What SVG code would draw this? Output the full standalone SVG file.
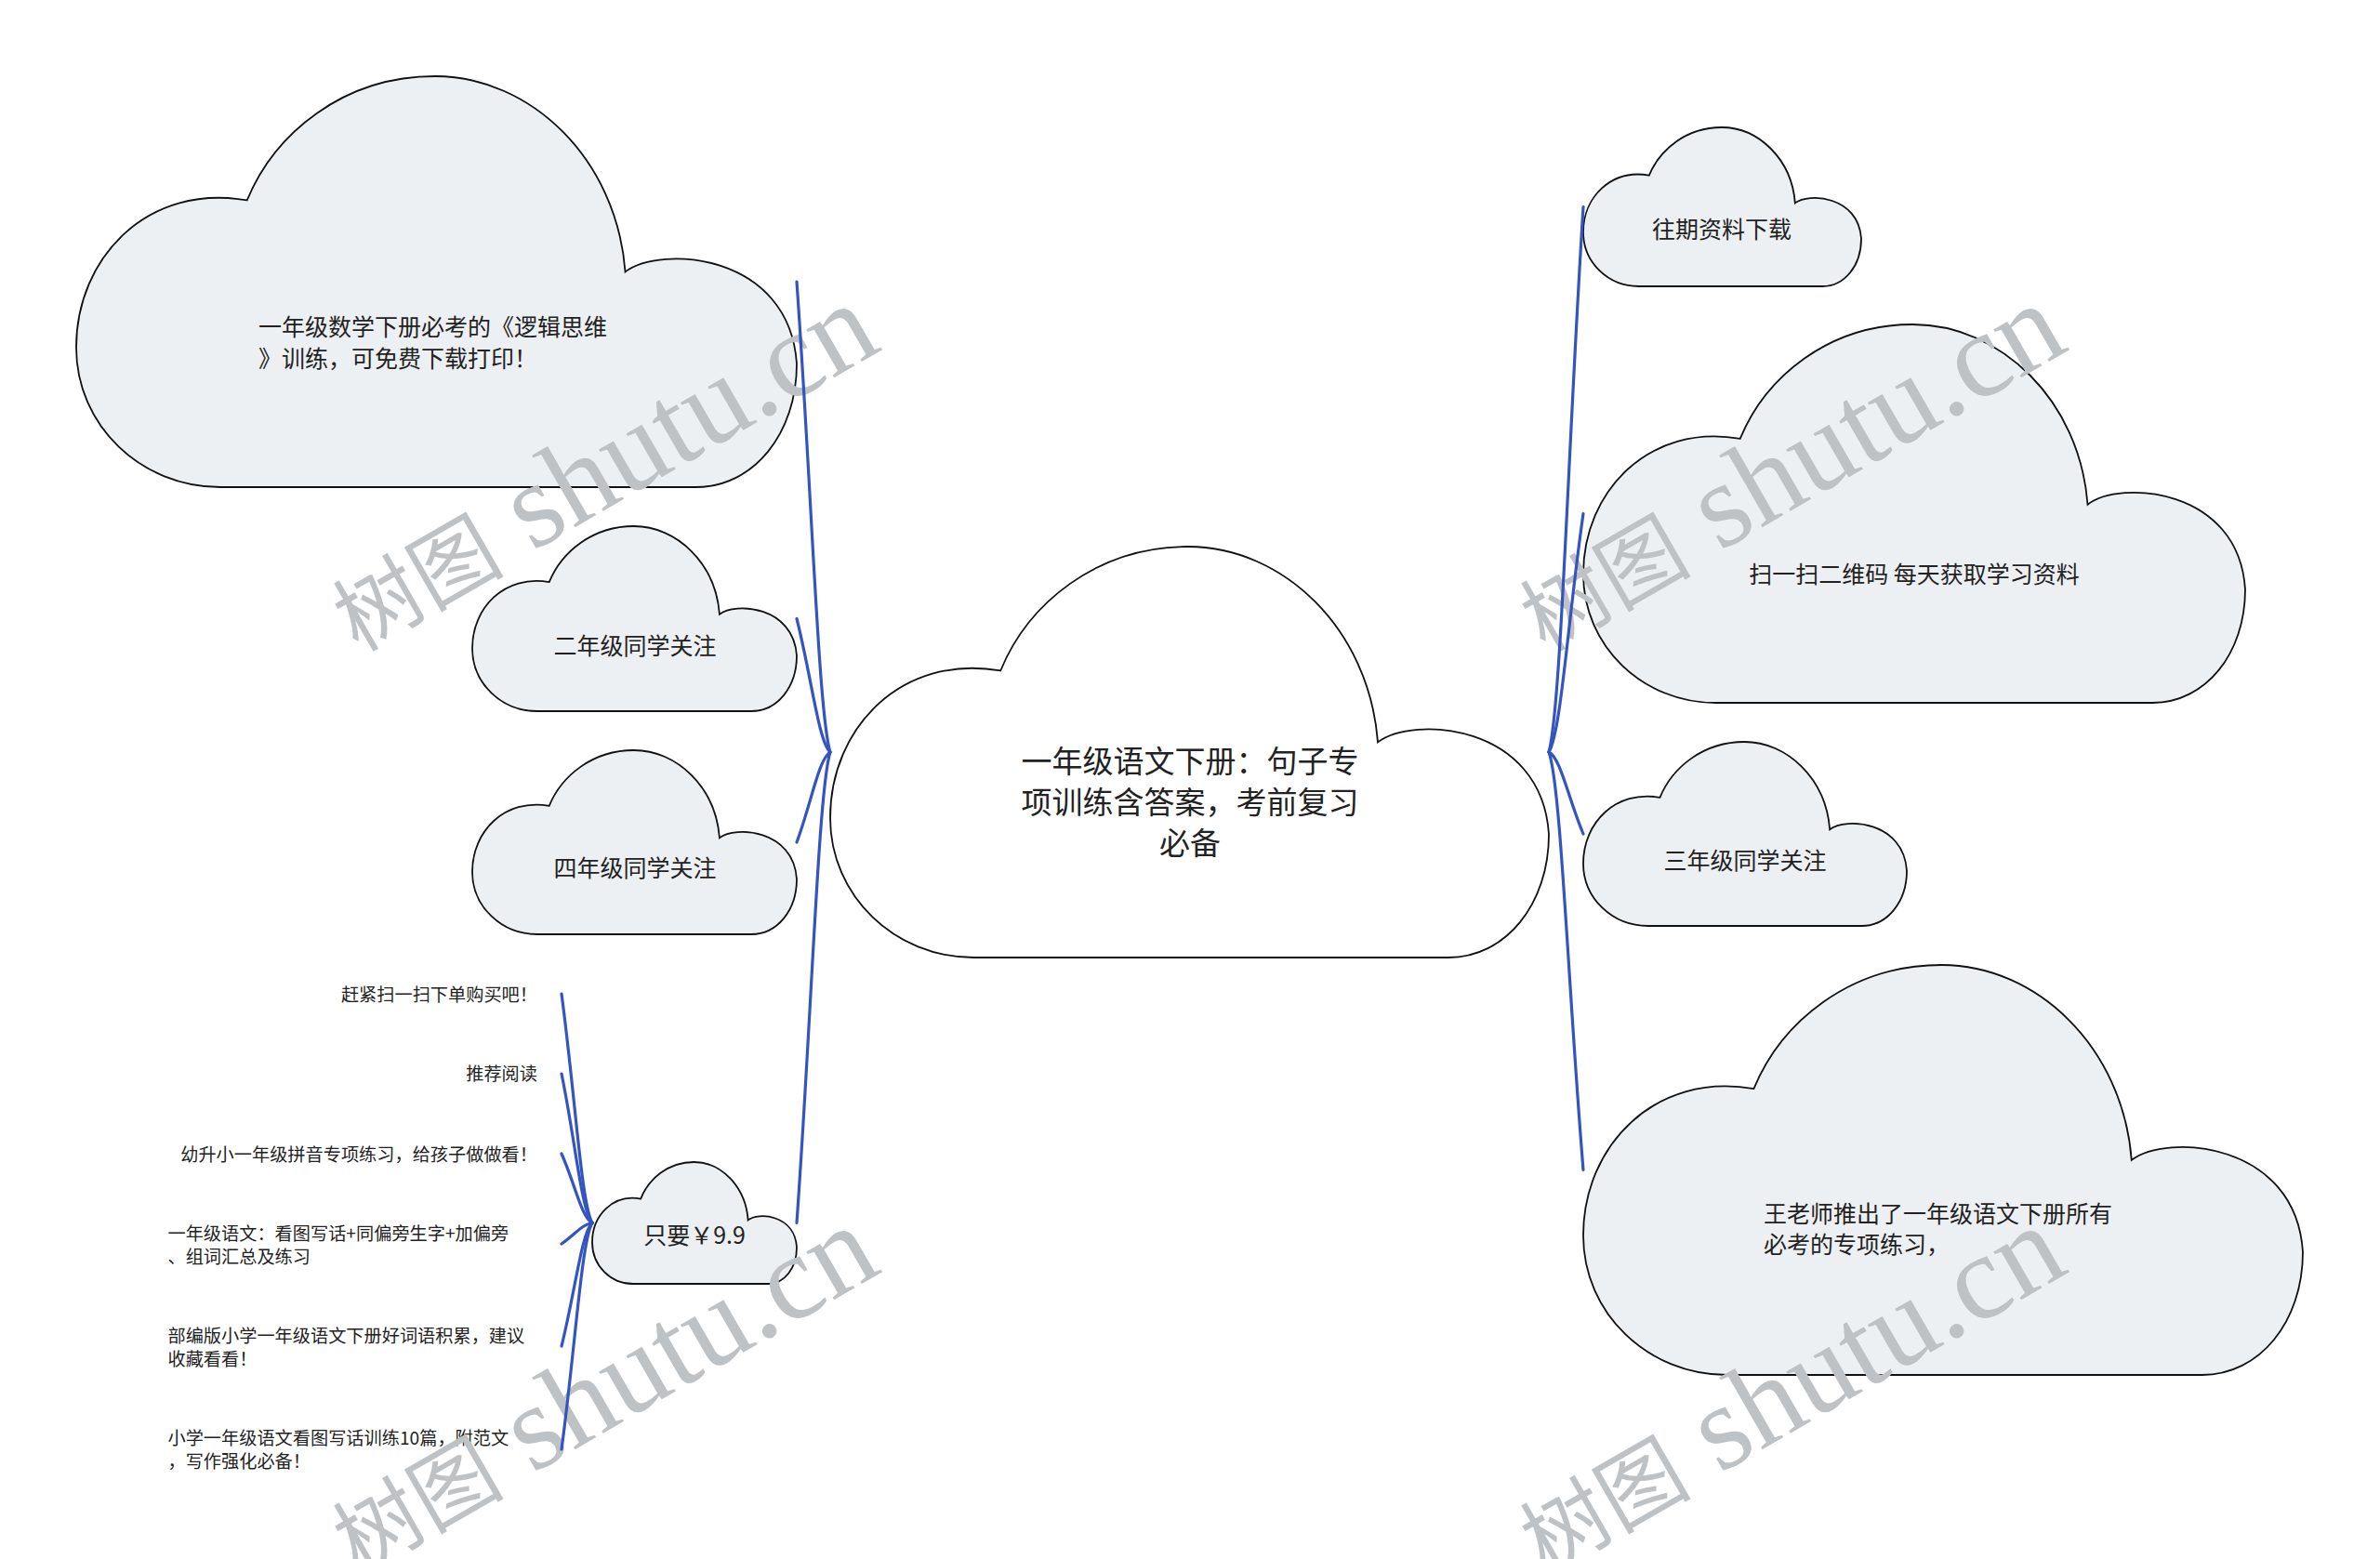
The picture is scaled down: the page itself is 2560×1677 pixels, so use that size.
<svg xmlns="http://www.w3.org/2000/svg" xmlns:xlink="http://www.w3.org/1999/xlink" width="2560" height="1677" viewBox="0 0 2560 1677">
<style>
.cl{fill:#edf0f3;stroke:#111;stroke-width:1.8}
.cl-main{fill:#ffffff;stroke:#111;stroke-width:1.8}
.t{font-family:'Noto Sans CJK SC','Noto Sans',sans-serif;fill:#222}
.tn{font-size:25px}
.tm{font-size:33px;text-anchor:middle}
.tc{text-anchor:middle}
.tl{font-size:19.2px}
.te{text-anchor:end}
.wm{font-family:'Liberation Serif','Noto Sans CJK SC',serif;fill:#bfc2c5}
.ln{fill:none;stroke:#3454bf;stroke-width:3.2;stroke-linecap:round}
</style>
<defs>
<symbol id="cloud" viewBox="0 0 100 100" preserveAspectRatio="none" style="overflow:visible">
<path vector-effect="non-scaling-stroke" d="M23.7,30.2 C27.5,14 37,0 49.8,0 C63,0 75,20 76.2,47.6 C81,41 99,43 100,70 C100,87 94,100 86,100 L20,100 C9,100 0,85 0,66 C0,44 10,26 23.7,30.2 Z"/>
</symbol>
</defs>
<rect width="2560" height="1677" fill="#ffffff"/>

<g id="node-center">
<use href="#cloud" x="893" y="588" width="773" height="442" class="cl-main"/>
<text class="t tm"><tspan x="1280" y="830.5">一年级语文下册：句子专</tspan><tspan x="1280" y="874.5">项训练含答案，考前复习</tspan><tspan x="1280" y="918.5">必备</tspan></text>
</g>
<g id="node-math">
<use href="#cloud" x="82" y="82" width="775" height="442" class="cl"/>
<text class="t tn"><tspan x="278" y="361">一年级数学下册必考的《逻辑思维</tspan><tspan x="278" y="394.5">》训练，可免费下载打印！</tspan></text>
</g>
<g id="node-grade2">
<use href="#cloud" x="508" y="566" width="349" height="199" class="cl"/>
<text class="t tn tc" x="683" y="703.5">二年级同学关注</text>
</g>
<g id="node-grade4">
<use href="#cloud" x="508" y="807" width="349" height="198" class="cl"/>
<text class="t tn tc" x="683" y="942.5">四年级同学关注</text>
</g>
<g id="node-price">
<use href="#cloud" x="637" y="1250" width="220" height="131" class="cl"/>
<text class="t tn tc" x="747" y="1337.5">只要￥9.9</text>
</g>
<g id="node-past">
<use href="#cloud" x="1703" y="137" width="299" height="171" class="cl"/>
<text class="t tn tc" x="1852" y="255.5">往期资料下载</text>
</g>
<g id="node-scan">
<use href="#cloud" x="1703" y="349" width="712" height="407" class="cl"/>
<text class="t tn tc" x="2059" y="626.5">扫一扫二维码 每天获取学习资料</text>
</g>
<g id="node-grade3">
<use href="#cloud" x="1703" y="798" width="348" height="198" class="cl"/>
<text class="t tn tc" x="1877" y="934.5">三年级同学关注</text>
</g>
<g id="node-teacher">
<use href="#cloud" x="1703" y="1038" width="774" height="441" class="cl"/>
<text class="t tn"><tspan x="1897" y="1315">王老师推出了一年级语文下册所有</tspan><tspan x="1897" y="1348">必考的专项练习，</tspan></text>
</g>
<g id="leaf-1"><text class="t tl te" x="578" y="1077">赶紧扫一扫下单购买吧！</text></g>
<g id="leaf-2"><text class="t tl te" x="578" y="1162">推荐阅读</text></g>
<g id="leaf-3"><text class="t tl te" x="578" y="1248.6">幼升小一年级拼音专项练习，给孩子做做看！</text></g>
<g id="leaf-4"><text class="t tl"><tspan x="180.5" y="1334">一年级语文：看图写话+同偏旁生字+加偏旁</tspan><tspan x="180.5" y="1359">、组词汇总及练习</tspan></text></g>
<g id="leaf-5"><text class="t tl"><tspan x="180.5" y="1444.3">部编版小学一年级语文下册好词语积累，建议</tspan><tspan x="180.5" y="1468.8">收藏看看！</tspan></text></g>
<g id="leaf-6"><text class="t tl"><tspan x="180.5" y="1554.3">小学一年级语文看图写话训练10篇，附范文</tspan><tspan x="180.5" y="1579">，写作强化必备！</tspan></text></g>

<g id="watermarks" class="wm">
<text transform="translate(385,702) rotate(-30)"><tspan font-size="92">树图</tspan><tspan font-size="130"> shutu.cn</tspan></text>
<text transform="translate(1662,702) rotate(-30)"><tspan font-size="92">树图</tspan><tspan font-size="130"> shutu.cn</tspan></text>
<text transform="translate(385,1694) rotate(-30)"><tspan font-size="92">树图</tspan><tspan font-size="130"> shutu.cn</tspan></text>
<text transform="translate(1662,1694) rotate(-30)"><tspan font-size="92">树图</tspan><tspan font-size="130"> shutu.cn</tspan></text>
</g>

<g id="connectors" class="ln">
<path d="M893,809 C880.4,768.5 873.2,530.7 857,303"/>
<path d="M893,809 C880.4,797.5 873.2,730.1 857,665.5"/>
<path d="M893,809 C880.4,816.8 873.2,862.4 857,906"/>
<path d="M893,809 C880.4,849.5 873.2,1087.6 857,1315.5"/>
<path d="M1666,809 C1679,762.1 1686.4,486.4 1703,222.5"/>
<path d="M1666,809 C1679,788.5 1686.4,667.9 1703,552.5"/>
<path d="M1666,809 C1679,816 1686.4,857.4 1703,897"/>
<path d="M1666,809 C1679,845 1686.4,1056.2 1703,1258.5"/>
<path d="M637,1315.5 C625.45,1295.8 618.85,1179.9 604,1069"/>
<path d="M637,1315.5 C625.45,1302.7 618.85,1227.2 604,1155"/>
<path d="M637,1315.5 C625.45,1309.5 618.85,1274.5 604,1241"/>
<path d="M637,1315.5 C625.45,1317.3 618.85,1327.9 604,1338"/>
<path d="M637,1315.5 C625.45,1326.1 618.85,1388.4 604,1448"/>
<path d="M637,1315.5 C625.45,1335 618.85,1449.4 604,1559"/>
</g>
</svg>
